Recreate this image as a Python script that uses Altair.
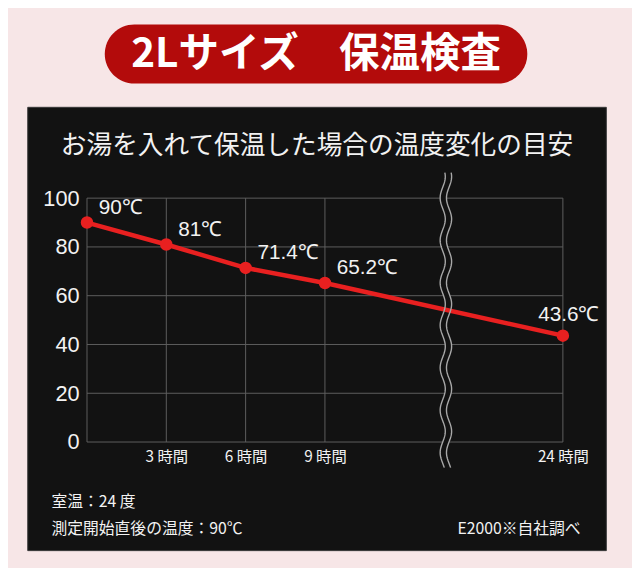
import altair as alt
import pandas as pd
import numpy as np

# ---------------- data ----------------
hours = [0, 3, 6, 9, 24]
temps = [90, 81, 71.4, 65.2, 43.6]
temp_labels = ["90℃", "81℃", "71.4℃", "65.2℃", "43.6℃"]
y_ticks = [0, 20, 40, 60, 80, 100]
x_tick_hours = [3, 6, 9, 24]
x_tick_labels = ["3 時間", "6 時間", "9 時間", "24 時間"]
banner_text = "2Lサイズ　保温検査"
title_text = "お湯を入れて保温した場合の温度変化の目安"
note_room = "室温：24 度"
note_start = "測定開始直後の温度：90℃"
note_source = "E2000※自社調べ"

# broken time axis: 3-hour steps up to 9h, then a break, 24h drawn 3 steps further
STEP_H = 3
BREAK_AFTER = 9
BREAK_SLOTS = 3


def slot(h):
    if h <= BREAK_AFTER:
        return h / STEP_H
    return BREAK_AFTER / STEP_H + BREAK_SLOTS


# ---------------- styling ----------------
W, H = 482, 247
PINK = "#f7e6e7"
BANNER_RED = "#b30b0b"
PANEL = "#121212"
GRID = "#5e5e5e"
RED = "#e82020"
WHITE = "#f2f2f2"
JP = "Noto Sans CJK JP"
NUM = "Liberation Sans"

slots = [slot(h) for h in hours]
df = pd.DataFrame({"slot": slots, "temp": temps, "label": temp_labels,
                   "idx": list(range(len(hours)))})

x_domain = [0, slot(hours[-1])]
x_scale = alt.Scale(domain=x_domain, nice=False, zero=False)
y_scale = alt.Scale(domain=[y_ticks[0], y_ticks[-1]], nice=False)

label_expr = " : ".join(
    f"datum.value == {slot(h)} ? '{t}'" for h, t in zip(x_tick_hours, x_tick_labels)
) + " : ''"

x_axis = alt.Axis(values=[slot(h) for h in x_tick_hours], labelExpr=label_expr,
                  grid=False, domain=False, ticks=False, title=None,
                  labelColor=WHITE, labelFont=JP, labelFontSize=15.5,
                  labelPadding=8, labelFlush=False, labelOverlap=False, zindex=1)
y_axis = alt.Axis(values=y_ticks, grid=False, domain=False, ticks=False, title=None,
                  labelColor=WHITE, labelFont=NUM, labelFontSize=22,
                  labelPadding=8, labelOverlap=False, zindex=1)


def X(field):
    return alt.X(field, type="quantitative", scale=x_scale, axis=x_axis)


def Y(field):
    return alt.Y(field, type="quantitative", scale=y_scale, axis=y_axis)


one = pd.DataFrame({"k": [0]})

# decorative panel and banner (pixel positions relative to the plot area)
panel = alt.Chart(one).mark_rect(color=PANEL, stroke="#3a3a3a", strokeWidth=1).encode(
    x=alt.value(-60), x2=alt.value(526), y=alt.value(-92), y2=alt.value(357))
banner = alt.Chart(one).mark_rect(color=BANNER_RED, cornerRadius=30).encode(
    x=alt.value(18), x2=alt.value(446), y=alt.value(-176), y2=alt.value(-116))
banner_t = alt.Chart(one).mark_text(text=banner_text, font=JP, fontSize=41,
                                    fontWeight="bold", color="white",
                                    align="center", baseline="middle").encode(
    x=alt.value(232), y=alt.value(-145))
title_t = alt.Chart(one).mark_text(text=title_text, font=JP, fontSize=26,
                                   color=WHITE, align="center", baseline="middle").encode(
    x=alt.value(233), y=alt.value(-53))
note1 = alt.Chart(one).mark_text(text=note_room, font=JP, fontSize=16, color=WHITE,
                                 align="left", baseline="middle").encode(
    x=alt.value(-36), y=alt.value(308))
note2 = alt.Chart(one).mark_text(text=note_start, font=JP, fontSize=16, color=WHITE,
                                 align="left", baseline="middle").encode(
    x=alt.value(-36), y=alt.value(335))
note3 = alt.Chart(one).mark_text(text=note_source, font=JP, fontSize=16, color=WHITE,
                                 align="right", baseline="middle").encode(
    x=alt.value(500), y=alt.value(335))

# grid
hgrid = alt.Chart(pd.DataFrame({"v": y_ticks})).mark_rule(color=GRID, strokeWidth=1).encode(
    y=Y("v"), x=alt.value(0), x2=alt.value(W))
vgrid = alt.Chart(pd.DataFrame({"v": [0] + [slot(h) for h in x_tick_hours]})).mark_rule(
    color=GRID, strokeWidth=1).encode(x=X("v"), y=alt.value(0), y2=alt.value(H))

# wavy break symbol between 9h and 24h
px_x = W / (x_domain[1] - x_domain[0])
px_y = H / (y_ticks[-1] - y_ticks[0])
brk_center = 363.5 / px_x
WAVE_PERIOD_PX = 43.0
WAVE_AMP_PX = 2.6
wy = np.linspace(-10.5, 110.5, 241)
wave_rows = []
for line_id, off_px in [("band", 0.0), ("l", -3.2), ("r", 3.2)]:
    for i, yy in enumerate(wy):
        xx = brk_center + (off_px + WAVE_AMP_PX * np.sin(2 * np.pi * yy * px_y / WAVE_PERIOD_PX)) / px_x
        wave_rows.append({"line": line_id, "i": i, "slot": xx, "temp": yy})
wave = pd.DataFrame(wave_rows)

wave_band = alt.Chart(wave).transform_filter("datum.line == 'band'").mark_line(
    color=PANEL, strokeWidth=7).encode(x=X("slot"), y=Y("temp"), order="i:Q")
wave_lines = alt.Chart(wave).transform_filter("datum.line != 'band'").mark_line(
    color="#a8a8a8", strokeWidth=1.4).encode(
    x=X("slot"), y=Y("temp"), order="i:Q", detail="line:N")

line = alt.Chart(df).mark_line(color=RED, strokeWidth=4.5).encode(x=X("slot"), y=Y("temp"))
pts = alt.Chart(df).mark_circle(color=RED, size=160, opacity=1).encode(x=X("slot"), y=Y("temp"))
lab_a = alt.Chart(df).transform_filter(f"datum.idx < {len(hours) - 1}").mark_text(
    font=NUM, fontSize=21, color=WHITE, align="left", baseline="middle", dx=12, dy=-15).encode(
    x=X("slot"), y=Y("temp"), text="label:N")
lab_b = alt.Chart(df).transform_filter(f"datum.idx == {len(hours) - 1}").mark_text(
    font=NUM, fontSize=21, color=WHITE, align="center", baseline="middle", dx=6, dy=-21).encode(
    x=X("slot"), y=Y("temp"), text="label:N")

chart = alt.layer(
    panel, banner, banner_t, title_t, note1, note2, note3,
    hgrid, vgrid, wave_band, line, wave_lines, pts, lab_a, lab_b
).properties(
    width=W, height=H,
    padding={"left": 80, "top": 189, "right": 70, "bottom": 124},
    autosize=alt.AutoSizeParams(type="none"),
).configure(background=PINK).configure_view(stroke=None)

chart.save("out.html", embed_options={"renderer": "svg", "actions": False})
